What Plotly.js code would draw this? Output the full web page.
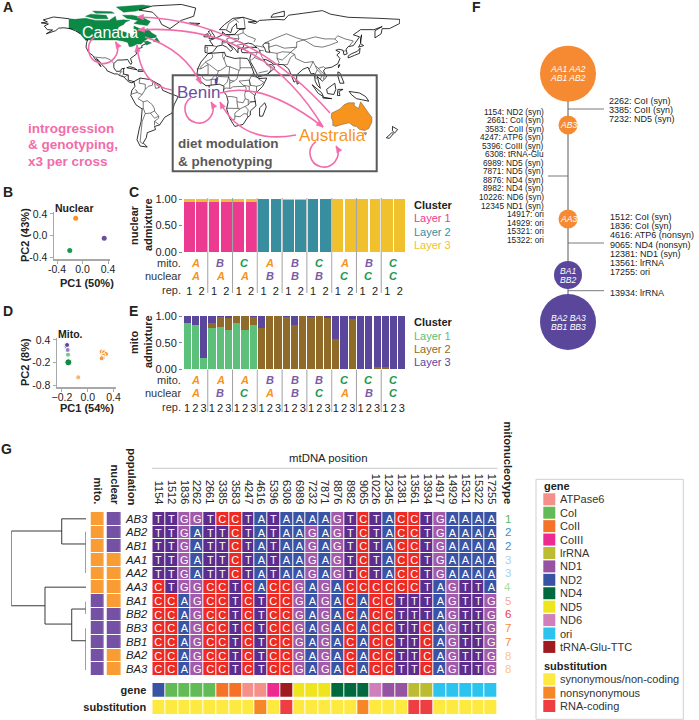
<!DOCTYPE html>
<html><head><meta charset="utf-8">
<script src="https://cdn.plot.ly/plotly-3.0.1.min.js"></script>
<style>html,body{margin:0;padding:0;background:#fff}#c{width:699px;height:720px}</style></head>
<body><div id="c"></div>
<script>
// ---------- data ----------
const nuclearBarsTeal   =[0,0,0,0,0,0,.98,.98,.985,.985,.99,.985,0,0,0,0,0,0];
const nuclearBarsPink   =[.95,.95,.95,.95,.95,.95,.02,.02,.0,.0,.01,.015,0,0,0,0,0,0];
const nuclearBarsYellow =[.05,.05,.05,.05,.05,.05,0,0,.015,.015,0,0,1,1,1,1,1,1];
const mitoBarsGreen =[.86,.825,.21,.77,.80,.74,.86,.74,.825,0,0,0,0,0,0,0,0,0,.01,0,0,0,0,0,0,0,0];
const mitoBarsBrown =[0,0,0,.105,.19,.22,.14,.26,.165,.78,.995,1,.99,.825,1,.975,1,.97,.55,0,.94,0,.01,.04,.04,0,0];
const mitoBarsPurple=[.14,.175,.79,.125,.01,.04,0,0,.01,.22,.005,0,.01,.175,0,.025,0,.03,.44,1,.06,1,.99,.96,.96,1,1];
const repC=[1,2,1,2,1,2,1,2,1,2,1,2,1,2,1,2,1,2];
const repE=[1,2,3,1,2,3,1,2,3,1,2,3,1,2,3,1,2,3,1,2,3,1,2,3,1,2,3];
const mitoC=['A','B','C','A','B','C','A','B','C'], nucC=['A','A','A','B','B','B','C','C','C'];
const mitoE=['A','A','A','B','B','B','C','C','C'], nucE=['A','B','C','A','B','C','A','B','C'];
const pcaBx=[-.107,.34,-.2], pcaBy=[.32,-.05,-.28], pcaBc=['#f7941d','#6a4ea0','#1a9850'];
const pcaDx=[.217,.253,.284,.242,.233,.217,-.146,-.336,-.326,-.32,-.31,-.305,-.30];
const pcaDy=[.088,.072,.027,-.018,-.072,-.088,-.595,.24,.22,.267,.133,.008,-.195];
const pcaDc=['#f79a3c','#f79a3c','#f79a3c','#f79a3c','#f79a3c','#f79a3c','#fbb36e','#888888','#5a479c','#5a479c','#9480c4','#7cc28a','#0f8a45'];
const pcaDs=[5,5,5,5,5,5,5,5,5,5,5,5,7];
const positions=['1154','1512','1836','2262','2661','3385','3583','4247','4616','5396','6308','6989','7232','7871','8876','8982','9065','10226','12345','12381','13561','13934','14917','14929','15321','15322','17255'];
const populations=['AB3','AB2','AB1','AA1','AA2','AA3','BA1','BB2','BB3','BB1','BA2','BA3'];
const sequences=[
'TTGGTCCTATAAAAGTCTACCTGAAAA',
'TTGATTCTATAAGAGTCTACCTGAAAA',
'TTGATTCTATAAGAGTCTACCTGAAAA',
'TTGATTCTATAAGAGTCTACCTGAAAA',
'TTGATTCTATAAGAGTCTACCTGAAAA',
'CTGGCCTCACCGAGACCCCCCTAGTTA',
'CCAGCCTCTCCGAGACACCTTTAGTTG',
'CCAGCCTCTCCGAGACACCTTTAGTTG',
'CCAGCCTCTCCGAGACACCTTCAGTTG',
'CCAGCCTCTCCGAGACACCTTCAGTTG',
'CCAGCCTCTCCGAGACACCTTCAGTTG',
'CCAGCCTCTCCGAGACACCTTCAGTTG'];
const baseColors={A:'#3a53a4',C:'#ee2a24',G:'#a25bab',T:'#5c2d8c'};
const mitoRow=[0,0,0,0,0,0,1,1,1,1,1,1], nucRow=[1,1,1,0,0,0,0,1,1,1,0,0];
const mitotypes=[1,2,2,3,3,4,5,6,7,7,8,8];
const mitotypeColors={1:'#5cb85c',2:'#3b8ec9',3:'#a6d2ec',4:'#aedba0',5:'#f9a8a0',6:'#ee3a30',7:'#f78a34',8:'#fcc58a'};
const genes=['ATPase6','CoI','CoII','CoIII','lrRNA','ND1','ND2','ND4','ND5','ND6','ori','tRNA-Glu-TTC'];
const geneColors=['#f58f8a','#62bb57','#f47326','#ee2a91','#bcbc32','#9653a2','#3953a4','#00693e','#eee51f','#d07fba','#2cc3ef','#9e1b20'];
const genePerPos=[6,1,1,1,1,2,2,0,0,3,11,8,8,8,7,7,7,9,5,5,4,4,10,10,10,10,10];
const substNames=['synonymous/non-coding','nonsynonymous','RNA-coding'];
const substColors=['#fde93f','#f68626','#ee3e42'];
const substPerPos=[0,0,0,0,0,0,0,0,1,0,2,0,0,0,0,0,1,0,0,0,2,2,0,0,0,0,0];
const leftMutations=['1154: ND2 (syn)','2661: CoI (syn)','3583: CoII (syn)','4247: ATP6 (syn)','5396: CoIII (syn)','6308: tRNA-Glu','6989: ND5 (syn)','7871: ND5 (syn)','8876: ND4 (syn)','8982: ND4 (syn)','10226: ND6 (syn)','12345 ND1 (syn)','14917: ori','14929: ori','15321: ori','15322: ori'];
const rightMutationsA=['2262: CoI (syn)','3385: CoII (syn)','7232: ND5 (syn)'];
const rightMutationsB=['1512: CoI (syn)','1836: CoI (syn)','4616: ATP6 (nonsyn)','9065: ND4 (nonsyn)','12381: ND1 (syn)','13561: lrRNA','17255: ori'];
const netX=[568,568,568,568,568], netY=[73.7,125,219,275,322], netD=[56,19,19,28,56];
const netC=['#f68a33','#f68a33','#f68a33','#5a479c','#5a479c'];
const dendroX=[1,1,null,1,.325,null,.325,.325,null,.325,0,null,.325,0,null,1,.549,null,.549,.549,null,.549,0,null,.549,.191,null,.191,.191,null,.191,0,null,.191,0];
const dendroY=[.89,6.36,null,.89,.89,null,0,1.84,null,0,0,null,1.84,1.84,null,6.36,6.36,null,5,7.7,null,5,5,null,7.7,7.7,null,6.6,8.92,null,6.6,6.6,null,8.92,8.92];
const dendroGrayX=[0,0,null,0,0,null,0,0], dendroGrayY=[.94,3.97,null,6.06,6.97,null,8,11.06];
// map outlines in lon/lat (hand-read approximations)
const canadaOutlines=[[[-141,69.6],[-141,60],[-135,59],[-130,55],[-128,52],[-125,49],[-95,49],[-89,48],[-84,46.5],[-82.5,42.5],[-79,43],[-75,45],[-71,45],[-69,47.3],[-67.5,47],[-67,45],[-66,44],[-61,46],[-65,48],[-70,47],[-65,50],[-57,51.5],[-56,53],[-61,56],[-64.5,60],[-69,58.5],[-78,62.5],[-78,58],[-77,55.5],[-79.5,51.5],[-82,55],[-88,57],[-94,59],[-93,61.5],[-88,64],[-86,66.5],[-82,68],[-88,68.5],[-95,68],[-96,72],[-102,68],[-115,68],[-125,70],[-135,69],[-141,69.6]],
[[-80,73],[-70,71],[-62,67],[-65,63],[-72,64],[-78,65],[-74,68],[-85,70],[-89,73],[-80,73]],[[-120,74],[-105,73],[-103,69.5],[-115,69.5],[-125,72],[-120,74]],[[-95,81],[-70,83],[-62,82],[-76,77],[-88,76],[-95,81]],[[-118,77],[-100,76.5],[-97,75],[-115,75],[-118,77]],[[-59,47.5],[-53,47],[-56,51.5],[-59,47.5]]];
const australiaOutlines=[[[114,-22],[122,-18],[126,-14],[130,-12],[136,-12],[136,-15],[140,-17.5],[142,-11],[145,-15],[149,-21],[153,-26],[153,-31],[150,-37],[146,-39],[141,-38],[138,-35],[135,-34.5],[131,-31.5],[124,-33],[118,-35],[115,-34],[115,-30],[113.5,-26],[114,-22]],[[145,-41],[148,-41],[147,-43.5],[145,-41]]];
const beninOutlines=[[[1.6,6.2],[2.7,6.4],[3.6,11.7],[2.4,12.2],[0.9,10.9],[1.6,6.2]]];
const coastlines=[
[[-141,69.6],[-156,71.3],[-166,68.5],[-162,66.5],[-168,65.6],[-161,64.5],[-165,62.5],[-162,59],[-157,58.7],[-163,55],[-154,58],[-151,60.5],[-146,60.8],[-140,60],[-135,58],[-130,55]],
[[-125,49],[-123,49],[-124,46],[-124.5,42],[-122,37],[-118,34],[-117,32.5],[-114,28],[-110,23],[-112,27],[-114.5,31],[-112,29],[-109,25],[-105,21],[-104,19],[-97,16],[-94,16],[-92,14.5],[-87.5,13],[-85,10],[-83,8.3],[-80,7.3],[-78,8.5],[-80,9],[-83.5,10],[-83.5,15],[-88,15.8],[-88,21],[-87,21.5],[-90,21],[-91,18.7],[-95,18.5],[-97.5,22],[-97.5,26],[-94,29.5],[-89.5,29.5],[-84,30],[-82.7,27.5],[-81,25.2],[-80,27],[-81.3,31],[-75.5,35.3],[-76,38],[-74,40.5],[-70,41.7],[-70.5,43.5],[-67,45]],
[[-73,78],[-60,82],[-32,83.5],[-18,80],[-20,72],[-32,68],[-43,60],[-51,64],[-54,70],[-60,76],[-73,78]],
[[-78,8.5],[-72,12],[-62,10.5],[-52,5],[-50,0],[-44,-2.5],[-35,-6],[-39,-14],[-41,-22],[-48,-26],[-53,-33.5],[-58,-35],[-57,-38],[-65,-41],[-66,-46],[-69,-51],[-65,-55],[-72,-54],[-75,-48],[-73,-38],[-71,-30],[-70,-18],[-76,-14],[-81,-5],[-80,0],[-77,4],[-78,8.5]],
[[-6,35.8],[10,37],[11,33.5],[20,31],[25,31.5],[32,31],[34,28],[37,21],[39,15],[43,11.5],[51,12],[47,4],[40,-3],[39,-6],[40.5,-15],[35,-20],[35,-24],[32.5,-26],[28,-33],[20,-35],[18,-32],[15,-27],[12,-18],[13.5,-11],[12,-5],[9,-1],[9.5,4],[5,6],[-4,5],[-8,4.5],[-13,8.5],[-17,14.7],[-16,21],[-13,27.5],[-9.5,31.5],[-6,35.8]],
[[49,-12],[50.5,-16],[47,-25],[44,-25],[44,-17],[49,-12]],
[[-9,37],[-9,43.5],[-1,43.5],[-4.5,48.5],[2,51],[8,54],[8,57],[11,54],[20,54.5],[24,59],[30,60],[22,60],[21.5,65],[17.5,61],[16,56],[11,59],[5,59],[10,64],[18,70],[28,71],[41,67],[33,66.5],[40,65],[44,68],[60,69],[68,68.5],[72,73],[87,75],[105,77.5],[113,74],[130,71],[160,70],[180,69],[180,65],[170,60],[163,60],[162,55],[156,51],[156,58],[163,62],[155,59],[142,59],[135,54],[141,52],[135,43.5],[130,42.5],[128,40],[129,35.5],[126,34.5],[125,39],[121,40],[118,39],[122,37],[119,34.5],[122,31],[120,26],[114,22.5],[108,21.5],[106,19],[109,13],[105,9],[100,13.5],[103,2],[100,5],[98,9],[97,16.5],[94,16],[91,22.5],[86,20.5],[80,15],[80,10],[77.5,8],[73,19],[72,21],[67,25],[57,25.5],[56,27],[50,30],[48,30],[51,25],[56,25],[59,22],[52,16],[43,13],[39,21],[35,28],[34.5,31],[36,36.5],[27,36.7],[26,39.5],[29,41],[36,42],[41.5,41.5],[37,45],[33,46],[29,45],[28,41.5],[23,40.5],[23,36.5],[19.5,41],[13,45.5],[18,40],[16,38],[12,42],[8,44],[3,43],[0,39],[-2,36.8],[-5.5,36],[-9,37]],
[[49,46],[53,46],[53,40],[54,37],[50,37.5],[49,41],[47,44],[49,46]],
[[-5,50],[1,51],[0,53],[-2,56],[-3,58.5],[-6,57],[-3,54],[-5,52],[-5,50]],[[-10,52],[-6,52],[-6,55],[-10,54],[-10,52]],[[-24,65.5],[-14,65],[-18,63.5],[-24,65.5]],
[[130,31.5],[136,34],[141,36],[141.5,41],[139,38],[133,35.5],[130,33.5],[130,31.5]],[[140,42],[145,43.5],[142,45.5],[140,42]],
[[95,5.5],[104,-2],[106,-6],[101,-3],[95,5.5]],[[105,-6.5],[114,-8],[106,-7.5],[105,-6.5]],[[109,1],[117,7],[118,1],[116,-4],[110,-3],[109,1]],[[120,1],[125,1],[121,-1],[122,-5],[119.5,-5],[120,1]],
[[131,-1],[141,-2.5],[147,-6],[150,-10.5],[143,-9],[138,-8],[133,-4],[131,-1]],[[120,18],[122,17],[124,12],[126,7],[122,7],[120,14],[120,18]],[[80,9.5],[82,7],[80.5,6],[80,9.5]],[[120.5,22],[122,25],[120.5,24.5],[120.5,22]],
[[173,-35],[178,-38],[175,-41.5],[173,-39],[173,-35]],[[172.5,-41],[174,-42],[170,-46.5],[167,-46],[172.5,-41]],
[[-85,22],[-75,20],[-78,22],[-82,23],[-85,22]],[[-74,18.5],[-68.5,18.5],[-70,20],[-74,20],[-74,18.5]],[[142,46],[143,54],[142,50],[142,46]],[[68,72],[55,71],[57,74],[68,77],[68,72]]
];
const borders=[
[[-117,32.5],[-108,31.5],[-106,31.8],[-101,29.8],[-97.3,26]],[[-92,14.5],[-91,18],[-89,18]],[[-88,15.8],[-90,14]],[[-83.5,15],[-87.5,13]],
[[-72,12],[-73,7],[-67,6],[-67,1],[-70,-4],[-74,-8],[-69,-11],[-69,-17],[-70,-18]],[[-60,8],[-60,5],[-64,4],[-67,1]],[[-58,7],[-57,2],[-54,2.5],[-54,5.5]],[[-52,4],[-54,2.5]],[[-80,-3.5],[-75,-2],[-70,-4]],[[-77,1],[-75,-.5],[-75,-2]],[[-69,-11],[-65,-10],[-60,-14],[-58,-18],[-58,-20]],[[-58,-20],[-62,-22],[-67,-22.5],[-69,-17]],[[-58,-20],[-54,-25],[-58,-27],[-62,-22]],[[-54,-25],[-54,-27],[-58,-30],[-58,-34]],[[-53,-33.5],[-58,-30]],[[-67,-22.5],[-70,-30],[-71,-40],[-72,-50],[-69,-52]],
[[-8.7,27.7],[-3,30.5],[-1.5,32.5],[-2,35]],[[-8.7,27.3],[-4.8,25],[3,19],[6,19.5],[12,23.5],[9.5,30],[8,33],[8.5,37]],[[25,31.5],[25,20],[24,19.5],[15,23],[12,23.5]],[[10,33],[9.5,30]],[[25,22],[37,22]],[[15,23],[14,13],[15,10],[19,9],[22,11],[24,19.5]],[[24,9],[34,10],[36,14],[38.5,18]],[[-17,21],[-13,21],[-13,23],[-8.7,27.3]],[[-13,21],[-6,25]],[[-16.5,16],[-12,15],[-6,15.5],[-6,25]],[[-12,15],[-11,12],[-8,10],[-5,10],[-3,10.5],[1,15],[3,15.5],[4,19]],[[1,15],[3,12],[4,13.5],[14,13]],[[14,13],[12.5,8],[9,4.5]],[[-3,5],[-3,10.5],[1,11],[1,6]],[[9,1],[11.3,2.3],[16,2],[18,3.5],[30,4],[31,2],[29.5,-4],[30,-8],[28,-12],[22,-11],[22,-7],[17,-6],[13,-6]],[[15,7],[19,9]],[[15,10],[15,2]],[[24,9],[28,5],[34,4],[35,5],[34,10]],[[34,10],[35,5],[41,4],[45,5],[48,8],[43,11]],[[36,14],[43,12.5]],[[34,4],[34,-1],[39,-4.5]],[[41,4],[41,-2]],[[30,-1],[34,-1]],[[34,-9.5],[30,-8]],[[34,-11],[40.5,-10.7]],[[12,-17.3],[23,-17.5],[22,-11]],[[20,-28],[20,-22],[25,-18],[23,-17.5]],[[16.5,-28.5],[20,-28]],[[20,-25],[25,-25.5],[29,-22.5],[32,-23],[32.5,-26]],[[25,-18],[30,-15.5],[33,-14],[33,-9.5]],[[30,-15.5],[33,-19],[32,-23]],[[33,-14],[35,-11.5],[40.5,-10.7]],
[[-1.8,43.4],[3,42.5]],[[-8.8,42],[-6.5,42],[-7,37.2]],[[2.5,51],[8,49],[7.5,44]],[[8,54.9],[14,54],[15,51],[12,50],[13,47.5],[7.5,47.5]],[[7,46],[13,46.5]],[[14,54],[23,54],[24,50],[15,51]],[[24,50],[22,48],[29,45.5]],[[28,60],[28,56],[32,53],[40,50],[38.5,47]],[[23,54],[28,56]],[[22,48],[16,46],[13.5,46]],[[29,45],[22,44],[23,41]],[[12,59],[14,65],[20,69],[28,71]],[[20,69],[24,66]],[[30,60],[29,69],[28,71]],[[40,43.5],[48,42]],[[49,46],[60,51],[70,55],[80,51],[87,49],[98,52],[107,50],[117,50],[120,53],[127,50],[135,48],[131,43],[130.5,42.7]],[[87,49],[97,43],[105,42],[112,44],[120,47],[117,50]],[[53,42],[60,44],[68,41],[80,42],[80,47],[87,49]],[[44,39],[48,38.5]],[[44,39],[46,33],[48,30]],[[54,37],[61,36],[61,31],[63,27],[61,25]],[[36,36.5],[44,37],[44,39]],[[42,41.5],[44,39]],[[46,29],[39,32],[36,29.5]],[[39,32],[42,37]],[[52,16],[55,20],[55,22],[51.5,24.5]],[[43,17],[52,19]],[[61,31],[66,29.5],[71,34],[74,37],[66,37.5],[61,36]],[[67,25],[71,25],[74,32],[78,35],[79,31],[88,27],[96,28],[93,22],[92,20.5]],[[78,35],[74,37],[80,42]],[[96,28],[98,24],[101,21.5],[106,23],[108,21.5]],[[98,24],[100,20],[98,16],[99,11]],[[101,21.5],[104,18],[107,16],[106,11]],[[100,20],[105,15],[103,11]],[[125,38],[128,38.5]]
];
const FONT='"Liberation Sans", Arial, sans-serif';
const PINK='#f26cab', GREY='#58595b', AC={A:'#f7941d',B:'#7b5aa6',C:'#1a9850'};
// ---------- helpers ----------
const W=699,H=720;
const dx=(a,b)=>[a/W,b/W], dy=(a,b)=>[1-b/H,1-a/H];
const P=(x,y)=>(x/W).toFixed(5)+','+(1-y/H).toFixed(5);
const ann=[],shapes=[];
function T(x,y,text,o={}){ann.push(Object.assign({xref:'paper',yref:'paper',x:x/W,y:1-y/H,text:text,showarrow:false,xanchor:o.a||'center',yanchor:o.v||'middle',textangle:o.r||0,
  borderpad:0,font:{family:FONT,size:o.s||11,color:o.c||'#222',weight:o.b?700:400,style:o.i?'italic':'normal'}}));}
function Line(x0,y0,x1,y1,c,w){shapes.push({type:'line',xref:'paper',yref:'paper',x0:x0/W,x1:x1/W,y0:1-y0/H,y1:1-y1/H,line:{color:c,width:w}});}
function Rect(x0,y0,x1,y1,fill,lc,w){shapes.push({type:'rect',xref:'paper',yref:'paper',x0:x0/W,x1:x1/W,y0:1-y0/H,y1:1-y1/H,fillcolor:fill||'rgba(0,0,0,0)',line:{color:lc||'rgba(0,0,0,0)',width:w||0}});}
function Head(xe,ye,ux,uy){const n=Math.hypot(ux,uy);ux/=n;uy/=n;const L=6.5,B=2.8;
  shapes.push({type:'path',xref:'paper',yref:'paper',fillcolor:PINK,line:{color:PINK,width:.5},
   path:'M'+P(xe,ye)+' L'+P(xe-L*ux-B*uy,ye-L*uy+B*ux)+' L'+P(xe-L*ux+B*uy,ye-L*uy-B*ux)+' Z'});}
function Curve(x0,y0,cx,cy,x1,y1){shapes.push({type:'path',xref:'paper',yref:'paper',line:{color:PINK,width:1.6},path:'M'+P(x0,y0)+' Q'+P(cx,cy)+' '+P(x1,y1)});Head(x1,y1,x1-cx,y1-cy);}
function Loop(cx,cy,r,a0,a1){const n=4,da=(a1-a0)/n*Math.PI/180,k=4/3*Math.tan(da/4);let a=a0*Math.PI/180;
  let p='M'+P(cx+r*Math.cos(a),cy+r*Math.sin(a));
  for(let i=0;i<n;i++){const b=a+da;const x0=cx+r*Math.cos(a),y0=cy+r*Math.sin(a),x1=cx+r*Math.cos(b),y1=cy+r*Math.sin(b);
    p+=' C'+P(x0-k*r*Math.sin(a),y0+k*r*Math.cos(a))+' '+P(x1+k*r*Math.sin(b),y1-k*r*Math.cos(b))+' '+P(x1,y1);a=b;}
  shapes.push({type:'path',xref:'paper',yref:'paper',line:{color:PINK,width:1.6},path:p});
  Head(cx+r*Math.cos(a),cy+r*Math.sin(a),Math.sin(a),-Math.cos(a));}
const discrete=cs=>{const n=cs.length,o=[];cs.forEach((c,i)=>{o.push([i/n,c]);o.push([(i+1)/n,c]);});return o;};
const hidden=(d,extra)=>Object.assign({domain:d,visible:false,fixedrange:true},extra||{});
const tf={family:FONT,size:11,color:'#222'};
// ---------- traces ----------
const traces=[];
// A map: fills first, outlines on top, one trace per outline
[[canadaOutlines,'#0b8a46','#0b6a38'],[australiaOutlines,'#f7941d','#444'],[beninOutlines,'#5a479c','#5a479c']].forEach(g=>g[0].forEach(l=>traces.push({type:'scatter',mode:'lines',fill:'toself',fillcolor:g[1],x:l.map(p=>p[0]),y:l.map(p=>p[1]),line:{color:g[2],width:.4,simplify:false},xaxis:'x',yaxis:'y',hoverinfo:'skip'})));
coastlines.forEach(l=>traces.push({type:'scatter',mode:'lines',x:l.map(p=>p[0]),y:l.map(p=>p[1]),line:{color:'#000',width:.8,simplify:false},xaxis:'x',yaxis:'y',hoverinfo:'skip'}));
borders.forEach(l=>traces.push({type:'scatter',mode:'lines',x:l.map(p=>p[0]),y:l.map(p=>p[1]),line:{color:'#222',width:.6,simplify:false},xaxis:'x',yaxis:'y',hoverinfo:'skip'}));
// B, D PCA
traces.push({type:'scatter',mode:'markers',x:pcaBx,y:pcaBy,marker:{color:pcaBc,size:5,opacity:1},xaxis:'x2',yaxis:'y2'});
traces.push({type:'scatter',mode:'markers',x:pcaDx,y:pcaDy,marker:{color:pcaDc,size:pcaDs,opacity:1},xaxis:'x4',yaxis:'y4'});
// C bars
const ci=repC.map((_,i)=>i), ei=repE.map((_,i)=>i);
[[nuclearBarsTeal,'#388e9e'],[nuclearBarsPink,'#ec3a90'],[nuclearBarsYellow,'#f0c12d']].forEach(a=>traces.push({type:'bar',x:ci,y:a[0],width:.87,marker:{color:a[1]},xaxis:'x3',yaxis:'y3'}));
[[mitoBarsGreen,'#5cc07a'],[mitoBarsBrown,'#8f6a28'],[mitoBarsPurple,'#5a479c']].forEach(a=>traces.push({type:'bar',x:ei,y:a[0],width:.87,marker:{color:a[1]},xaxis:'x5',yaxis:'y5'}));
// F network
traces.push({type:'scatter',mode:'lines',x:netX,y:netY,line:{color:GREY,width:1},xaxis:'x6',yaxis:'y6',hoverinfo:'skip'});
traces.push({type:'scatter',mode:'markers',x:netX,y:netY,marker:{color:netC,size:netD,opacity:1,line:{width:0}},xaxis:'x6',yaxis:'y6',hoverinfo:'skip'});
// G dendrogram
traces.push({type:'scatter',mode:'lines',x:dendroX,y:dendroY,line:{color:'#222',width:.9},xaxis:'x7',yaxis:'y7',hoverinfo:'skip'});
traces.push({type:'scatter',mode:'lines',x:dendroGrayX,y:dendroGrayY,line:{color:'#777',width:1.4},xaxis:'x7',yaxis:'y7',hoverinfo:'skip'});
// G annotation columns
traces.push({type:'heatmap',x:['mito.','nuclear'],y:populations,z:populations.map((_,i)=>[mitoRow[i],nucRow[i]]),zmin:0,zmax:1,colorscale:discrete(['#fa9c34','#7551a6']),showscale:false,xgap:3.2,ygap:1,xaxis:'x8',yaxis:'y8',hoverinfo:'skip'});
// G main matrix
const baseOrder=['A','C','G','T'];
traces.push({type:'heatmap',x:positions,y:populations,z:sequences.map(s=>s.split('').map(b=>baseOrder.indexOf(b))),text:sequences.map(s=>s.split('')),texttemplate:'%{text}',textfont:{family:FONT,size:11,color:'#fff'},
  zmin:0,zmax:3,colorscale:discrete(baseOrder.map(b=>baseColors[b])),showscale:false,xgap:1,ygap:1,xaxis:'x9',yaxis:'y9',hoverinfo:'skip'});
traces.push({type:'heatmap',x:positions,y:['gene'],z:[genePerPos],zmin:0,zmax:11,colorscale:discrete(geneColors),showscale:false,xgap:1,ygap:0,xaxis:'x10',yaxis:'y10',hoverinfo:'skip'});
traces.push({type:'heatmap',x:positions,y:['substitution'],z:[substPerPos],zmin:0,zmax:2,colorscale:discrete(substColors),showscale:false,xgap:1,ygap:0,xaxis:'x11',yaxis:'y11',hoverinfo:'skip'});
// ---------- layout pieces ----------
Rect(172.7,75.3,376.7,171.3,null,GREY,2);
Curve(330,113,246,19,137,17);
Curve(323,127,260,21.5,138,30);
Curve(145,37,185,50,201,84);
Curve(172,90,140,85,137,45);
Curve(220,93,262,80,323,127);
Curve(296,135,242,145,220,102);
Loop(103,49,14.5,235,-30);Loop(199,109,14,235,-30);Loop(324,153,14,235,-30);
T(110,33,'Canada',{s:16,c:'#fff'});T(198,92,'Benin',{s:17,c:'#6a4ea0'});T(332.5,135,'Australia',{s:17,c:'#f7941d'});
T(27,128,'introgression',{a:'left',s:13.5,b:1,c:PINK});T(27,145,'&amp; genotyping,',{a:'left',s:13.5,b:1,c:PINK});T(27,161,'x3 per cross',{a:'left',s:13.5,b:1,c:PINK});
T(177,144,'diet modulation',{a:'left',s:13.5,b:1,c:GREY});T(177,161,'&amp; phenotyping',{a:'left',s:13.5,b:1,c:GREY});
[['A',2,7],['B',2,192],['C',128,192],['D',2,311],['E',128,311],['F',471,7],['G',0,449]].forEach(l=>T(l[1],l[2],l[0],{a:'left',s:14,b:1}));
T(74.5,208.3,'Nuclear',{s:10.5,b:1});T(87,282.5,'PC1 (50%)',{s:11,b:1});T(25,235,'PC2 (43%)',{s:11,b:1,r:-90});
T(70,334,'Mito.',{s:10.5,b:1});T(87,407.5,'PC1 (54%)',{s:11,b:1});T(25,362,'PC2 (8%)',{s:11,b:1,r:-90});
T(134,225,'nuclear',{s:11,b:1,r:-90});T(148,225,'admixture',{s:11,b:1,r:-90});
T(134,342,'mito',{s:11,b:1,r:-90});T(148,342,'admixture',{s:11,b:1,r:-90});
[[263,'mito.'],[276,'nuclear'],[290,'rep.'],[380,'mito.'],[393,'nuclear'],[407,'rep.']].forEach(r=>T(182,r[0],r[1],{a:'right',c:'#333'}));
const CW=223/18, EW=223/27;
mitoC.forEach((m,i)=>{const x=183+CW*(2*i+1);T(x,263,m,{b:1,i:1,c:AC[m]});T(x,276,nucC[i],{b:1,i:1,c:AC[nucC[i]]});});
mitoE.forEach((m,i)=>{const x=183+EW*(3*i+1.5);T(x,380,m,{b:1,i:1,c:AC[m]});T(x,393,nucE[i],{b:1,i:1,c:AC[nucE[i]]});});
for(let i=1;i<9;i++){const light=(i===3||i===6);Line(183+CW*2*i,198,183+CW*2*i,293,light?'#bdbdbd':'#a0a0a0',light?1.3:1);Line(183+EW*3*i,369.5,183+EW*3*i,412,light?'#bdbdbd':'#a0a0a0',light?1.3:1);}
T(412.7,205,'Cluster',{a:'left',b:1});T(412.7,218,'Layer 1',{a:'left',c:'#ec3a90'});T(412.7,231.5,'Layer 2',{a:'left',c:'#388e9e'});T(412.7,245,'Layer 3',{a:'left',c:'#f0c12d'});
T(412.7,322,'Cluster',{a:'left',b:1});T(412.7,335.7,'Layer 1',{a:'left',c:'#5cc07a'});T(412.7,349,'Layer 2',{a:'left',c:'#8f6a28'});T(412.7,362,'Layer 3',{a:'left',c:'#5a479c'});
Line(568,109,604,109,GREY,.8);Line(548,176,568,176,GREY,.8);Line(568,243,604,243,GREY,.8);Line(568,290.7,604,290.7,GREY,.8);
leftMutations.forEach((t,i)=>T(545,111.7+8.53*i,t,{a:'right',s:8.3}));
rightMutationsA.forEach((t,i)=>T(607.7,100.7+9.15*i,t,{a:'left',s:9}));
rightMutationsB.forEach((t,i)=>T(609.3,217+9.2*i,t,{a:'left',s:9}));
T(609.3,292.7,'13934: lrRNA',{a:'left',s:9});
[[568,68.7,'AA1 AA2'],[568,77.7,'AB1 AB2'],[568,125,'AB3'],[568,219,'AA3'],[568,270.5,'BA1'],[568,279.5,'BB2'],[568,317.5,'BA2 BA3'],[568,326.5,'BB1 BB3']].forEach(n=>T(n[0],n[1],n[2],{s:8.6,i:1,c:'#fff'}));
T(328,457.7,'mtDNA position',{s:11.4});Line(152,468.3,497.5,468.3,'#c8c8c8',1);
T(132,505.7,'population',{s:11.2,b:1,r:90,v:'bottom'});T(507.7,505.7,'mitonucleotype',{s:11.2,b:1,r:90,v:'bottom'});
mitotypes.forEach((m,i)=>T(507.7,518.8+13.67*i,String(m),{s:11.5,c:mitotypeColors[m]}));
Rect(536,479.3,683.3,719.3,'#fff','#cfcfcf',1);
T(543,486,'gene',{a:'left',b:1});
genes.forEach((g,i)=>{const y=499.3+13.42*i;Rect(543.3,y-6,555.3,y+6,geneColors[i]);T(558.7,y,g,{a:'left',c:'#333'});});
T(543,665.7,'substitution',{a:'left',b:1});
substNames.forEach((g,i)=>{const y=679.3+13.35*i;Rect(543.3,y-6,555.3,y+6,substColors[i]);T(558.7,y,g,{a:'left',c:'#333'});});
const axLine={showline:true,linecolor:'#a8a8a8',linewidth:1.5,ticks:'outside',tickcolor:'#a8a8a8',ticklen:3,tickwidth:1,showgrid:false,zeroline:false,tickfont:{family:FONT,size:10.5,color:'#222'},fixedrange:true};
const layout={width:W,height:H,margin:{l:0,r:0,t:0,b:0},autosize:false,showlegend:false,paper_bgcolor:'#fff',plot_bgcolor:'rgba(0,0,0,0)',barmode:'stack',font:{family:FONT,size:11,color:'#222'},
 shapes:shapes,annotations:ann,hovermode:false,
 xaxis:hidden(dx(0,400),{range:[-208,180.3],anchor:'y'}),yaxis:hidden(dy(0,180),{range:[-87,87.8],anchor:'x'}),
 xaxis2:Object.assign({},axLine,{domain:dx(54,110),range:[-.447,.431],anchor:'y2',tickvals:[-.4,0,.4],ticktext:['-0.4','0.0','0.4'],ticklabelstandoff:-3}),
 yaxis2:Object.assign({},axLine,{domain:dy(212,259),range:[-.437,.437],anchor:'x2',tickvals:[-.4,0,.4],ticktext:['-0.4','0.0','0.4']}),
 xaxis4:Object.assign({},axLine,{domain:dx(57,116),range:[-.476,.439],anchor:'y4',tickvals:[-.4,0,.4],ticktext:['\u22120.2','0.0','0.4'],ticklabelstandoff:-3}),
 yaxis4:Object.assign({},axLine,{domain:dy(338,387),range:[-.853,.453],anchor:'x4',tickvals:[-.8,-.2,.4],ticktext:['-0.8','-0.2','0.4']}),
 xaxis3:{domain:dx(183,406),range:[-.5,17.5],anchor:'y3',tickmode:'array',tickvals:ci,ticktext:repC,ticks:'',ticklabelstandoff:31,showline:false,showgrid:false,zeroline:false,tickfont:tf,fixedrange:true},
 yaxis3:{domain:dy(199,252),range:[0,1],anchor:'x3',tickvals:[0,.5,1],ticktext:['0.00','0.50','1.00'],ticks:'outside',ticklen:3,tickcolor:'#888',showgrid:false,zeroline:false,showline:false,tickfont:tf,fixedrange:true},
 xaxis5:{domain:dx(183,406),range:[-.5,26.5],anchor:'y5',tickmode:'array',tickvals:ei,ticktext:repE,ticks:'',ticklabelstandoff:31,showline:false,showgrid:false,zeroline:false,tickfont:tf,fixedrange:true},
 yaxis5:{domain:dy(316,369.3),range:[0,1],anchor:'x5',tickvals:[0,.5,1],ticktext:['0.00','0.50','1.00'],ticks:'outside',ticklen:3,tickcolor:'#888',showgrid:false,zeroline:false,showline:false,tickfont:tf,fixedrange:true},
 xaxis6:hidden(dx(500,640),{range:[500,640],anchor:'y6'}),yaxis6:hidden(dy(30,360),{range:[360,30],anchor:'x6'}),
 xaxis7:hidden(dx(11.3,86),{range:[1,0],anchor:'y7'}),yaxis7:hidden(dy(512,676),{range:[11.5,-.5],anchor:'x7'}),
 xaxis8:{domain:dx(89.7,122.3),type:'category',anchor:'y8',side:'top',tickangle:90,ticks:'',ticklabelstandoff:5,showgrid:false,zeroline:false,showline:false,tickfont:{family:FONT,size:11.2,color:'#222',weight:700},fixedrange:true},
 yaxis8:hidden(dy(512,676),{type:'category',autorange:'reversed',anchor:'x8'}),
 xaxis9:{domain:dx(152.3,497.5),type:'category',anchor:'y9',side:'top',tickangle:90,ticks:'',ticklabelstandoff:5,showgrid:false,zeroline:false,showline:false,tickfont:tf,fixedrange:true,tickmode:'array',tickvals:positions,ticktext:positions},
 yaxis9:{domain:dy(512,676),type:'category',autorange:'reversed',anchor:'x9',ticks:'',ticklabelstandoff:4,showgrid:false,zeroline:false,showline:false,tickmode:'array',tickvals:populations,ticktext:populations,tickfont:{family:FONT,size:11.3,color:'#222',style:'italic'},fixedrange:true},
 xaxis10:hidden(dx(152.3,497.5),{type:'category',anchor:'y10'}),yaxis10:{domain:dy(683,696.7),type:'category',anchor:'x10',ticks:'',ticklabelstandoff:5,showgrid:false,zeroline:false,showline:false,tickfont:{family:FONT,size:11,color:'#222',weight:700},fixedrange:true},
 xaxis11:hidden(dx(152.3,497.5),{type:'category',anchor:'y11'}),yaxis11:{domain:dy(700,714),type:'category',anchor:'x11',ticks:'',ticklabelstandoff:5,showgrid:false,zeroline:false,showline:false,tickfont:{family:FONT,size:11,color:'#222',weight:700},fixedrange:true}
};
Plotly.newPlot('c',traces,layout,{staticPlot:true,displayModeBar:false});
</script></body></html>
